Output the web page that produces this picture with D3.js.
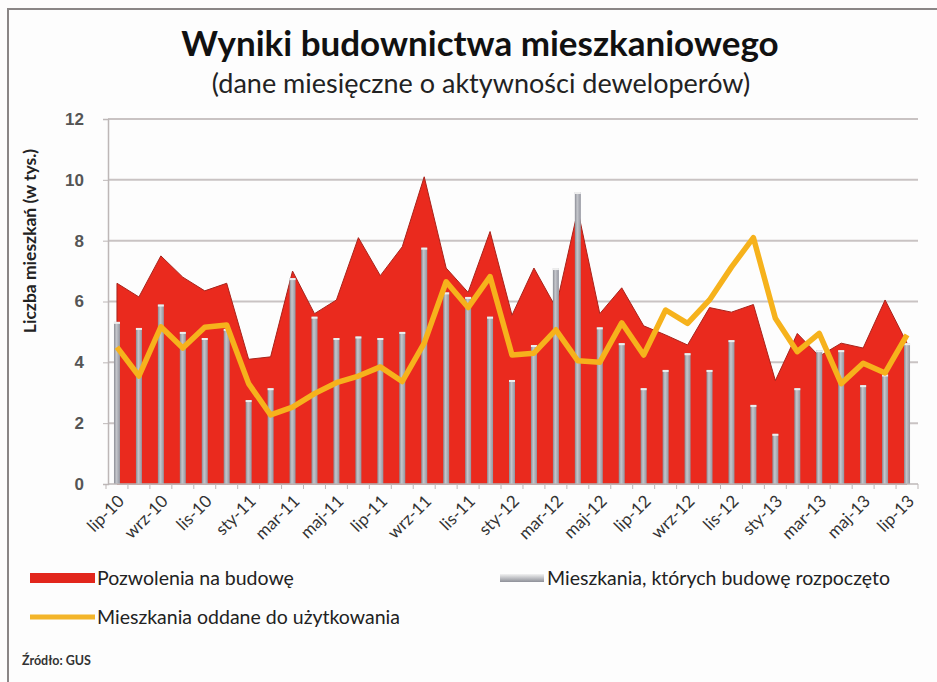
<!DOCTYPE html>
<html><head><meta charset="utf-8">
<script src="https://cdn.jsdelivr.net/npm/d3@7"></script>
<style>
html,body{margin:0;padding:0;background:#fdfdfd;}
svg{display:block;font-family:Lato,"Open Sans",sans-serif;}
</style></head>
<body><svg id="chart" width="937" height="682"></svg>
<script>
const months = ["lip-10","sie-10","wrz-10","paź-10","lis-10","gru-10","sty-11","lut-11","mar-11","kwi-11","maj-11","cze-11","lip-11","sie-11","wrz-11","paź-11","lis-11","gru-11","sty-12","lut-12","mar-12","kwi-12","maj-12","cze-12","lip-12","sie-12","wrz-12","paź-12","lis-12","gru-12","sty-13","lut-13","mar-13","kwi-13","maj-13","cze-13","lip-13"];
const tickLabels = ["lip-10","wrz-10","lis-10","sty-11","mar-11","maj-11","lip-11","wrz-11","lis-11","sty-12","mar-12","maj-12","lip-12","wrz-12","lis-12","sty-13","mar-13","maj-13","lip-13"];
const pozwolenia = [6.6,6.15,7.5,6.8,6.35,6.6,4.1,4.18,7.0,5.6,6.05,8.1,6.85,7.8,10.1,7.1,6.3,8.3,5.55,7.1,5.8,9.0,5.6,6.45,5.2,4.9,4.57,5.8,5.65,5.9,3.4,4.95,4.2,4.63,4.47,6.05,4.63];
const rozpoczete = [5.33,5.13,5.9,5.0,4.8,5.1,2.76,3.15,6.77,5.5,4.8,4.85,4.8,5.0,7.77,6.3,6.15,5.5,3.42,4.57,7.1,9.6,5.15,4.63,3.15,3.75,4.3,3.75,4.73,2.6,1.65,3.15,4.4,4.4,3.25,3.6,4.63];
const oddane = [4.5,3.55,5.17,4.47,5.15,5.23,3.3,2.27,2.53,2.97,3.33,3.55,3.85,3.37,4.63,6.65,5.8,6.82,4.24,4.3,5.07,4.05,4.0,5.3,4.24,5.72,5.28,6.05,7.13,8.1,5.45,4.35,4.95,3.3,3.97,3.65,4.9];
const yTicks = [0,2,4,6,8,10,12];
const seriesNames = ["Pozwolenia na budowę","Mieszkania, których budowę rozpoczęto","Mieszkania oddane do użytkowania"];

const svg = d3.select("#chart");
const defs = svg.append("defs");
const g1 = defs.append("linearGradient").attr("id","barGrad").attr("x1","0").attr("x2","1").attr("y1","0").attr("y2","0");
g1.append("stop").attr("offset","0%").attr("stop-color","#8a8c94");
g1.append("stop").attr("offset","40%").attr("stop-color","#c4c6cb");
g1.append("stop").attr("offset","100%").attr("stop-color","#9496a0");
const g2 = defs.append("linearGradient").attr("id","legGrad").attr("x1","0").attr("x2","0").attr("y1","0").attr("y2","1");
g2.append("stop").attr("offset","0%").attr("stop-color","#f2f2f2");
g2.append("stop").attr("offset","100%").attr("stop-color","#8e9098");

// frame
svg.append("rect").attr("x",8).attr("y",9).attr("width",960).attr("height",700)
  .attr("fill","#fdfdfd").attr("stroke","#8a8686").attr("stroke-width",2);

const x = d3.scaleBand().domain(months).range([106,918]);
const cx = d => x(d) + x.bandwidth()/2;
const y = d3.scaleLinear().domain([0,12]).range([484,119]);

// gridlines
svg.append("g").selectAll("line").data(yTicks.filter(t=>t>0)).join("line")
  .attr("x1",108).attr("x2",918).attr("y1",d=>y(d)).attr("y2",d=>y(d))
  .attr("stroke","#c9c3c3").attr("stroke-width",2);

// y axis
const yAxis = d3.axisLeft(y).tickValues(yTicks).tickSize(5).tickPadding(19).tickFormat(d3.format("d"));
const ya = svg.append("g").attr("transform","translate(108,0)").call(yAxis);
ya.select(".domain").attr("stroke","#bdb7b7").attr("stroke-width",1.5);
ya.selectAll(".tick line").attr("stroke","#bdb7b7");
ya.selectAll("text").attr("font-size",17).attr("font-weight","bold").attr("fill","#555");

// area
const area = d3.area().x((d,i)=>cx(months[i])).y0(y(0)).y1(d=>y(d));
svg.append("path").datum(pozwolenia).attr("d",area)
  .attr("fill","#ea2a1e").attr("stroke","#a8231b").attr("stroke-width",1);

// bars
const bw = 6;
svg.append("g").selectAll("rect").data(rozpoczete).join("rect")
  .attr("x",(d,i)=>cx(months[i])-bw/2).attr("width",bw)
  .attr("y",d=>y(d)).attr("height",d=>y(0)-y(d))
  .attr("fill","url(#barGrad)");
svg.append("g").selectAll("rect").data(rozpoczete).join("rect")
  .attr("x",(d,i)=>cx(months[i])-bw/2).attr("width",bw)
  .attr("y",d=>y(d)).attr("height",2).attr("fill","#eeeeee");

// line
const line = d3.line().x((d,i)=>cx(months[i])).y(d=>y(d));
svg.append("path").datum(oddane).attr("d",line)
  .attr("fill","none").attr("stroke","#f6b21c").attr("stroke-width",5.5).attr("stroke-linejoin","round");

// x axis
const xa = svg.append("g").attr("transform","translate(0,484)");
xa.append("line").attr("x1",108).attr("x2",918).attr("y1",0).attr("y2",0).attr("stroke","#bdb7b7").attr("stroke-width",1.5);
xa.selectAll("line.tk").data(months.concat(["__end"])).join("line").attr("class","tk")
  .attr("x1",(d,i)=>106+i*x.step()).attr("x2",(d,i)=>106+i*x.step()).attr("y1",0).attr("y2",5)
  .attr("stroke","#bdb7b7");
xa.selectAll("text").data(tickLabels).join("text")
  .attr("transform",d=>`translate(${cx(d)+4},${14}) rotate(-45)`)
  .attr("text-anchor","end").attr("dy","0.35em")
  .attr("font-size",17).attr("fill","#333").text(d=>d);

// y title
svg.append("text").attr("transform","translate(36,241) rotate(-90)")
  .attr("text-anchor","middle").attr("font-size",17.5).attr("font-weight","bold").attr("fill","#222")
  .text("Liczba mieszkań (w tys.)");

// title
svg.append("text").attr("x",480).attr("y",56).attr("text-anchor","middle")
  .attr("font-size",35).attr("font-weight","bold").attr("fill","#111")
  .text("Wyniki budownictwa mieszkaniowego");
svg.append("text").attr("x",481).attr("y",93).attr("text-anchor","middle")
  .attr("font-size",27).attr("fill","#222")
  .text("(dane miesięczne o aktywności deweloperów)");

// legend
svg.append("rect").attr("x",30).attr("y",573).attr("width",65).attr("height",10).attr("fill","#e2261c");
svg.append("text").attr("x",97).attr("y",578).attr("dy","0.35em").attr("font-size",19.5).attr("fill","#222").text(seriesNames[0]);
svg.append("rect").attr("x",500).attr("y",574).attr("width",44).attr("height",8).attr("fill","url(#legGrad)");
svg.append("text").attr("x",547).attr("y",578).attr("dy","0.35em").attr("font-size",19.5).attr("fill","#222").text(seriesNames[1]);
svg.append("line").attr("x1",30).attr("x2",95).attr("y1",617).attr("y2",617).attr("stroke","#f3b52a").attr("stroke-width",5);
svg.append("text").attr("x",97).attr("y",617).attr("dy","0.35em").attr("font-size",19.5).attr("fill","#222").text(seriesNames[2]);

svg.append("text").attr("x",22).attr("y",665).attr("font-size",12.5).attr("font-weight","bold").attr("fill","#333").text("Źródło: GUS");
</script></body></html>
